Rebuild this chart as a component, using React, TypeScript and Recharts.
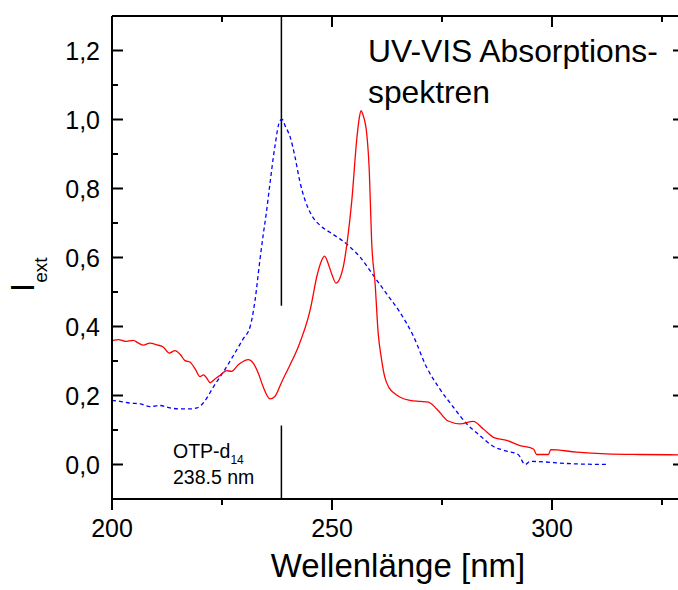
import React from 'react';
import { LineChart, Line, XAxis, YAxis, ReferenceLine } from 'recharts';

// wavelength (nm) / extinction
const redX = [200, 201.5, 203, 204.8, 206, 207.1, 208.6, 210.2, 211.7, 213, 214.3, 215.5, 216.6, 217.7, 218.9, 220, 220.8, 221.5, 222.3, 223.4, 224.5, 226.1, 227.2, 228.7, 230, 231, 232.1, 233.3, 234.4, 235.9, 237, 238.6, 240.5, 242.3, 245, 246.7, 247.6, 248.3, 249.2, 250, 250.9, 251.8, 252.6, 253.5, 254.5, 255.6, 256.2, 256.6, 257, 257.9, 258.5, 259, 259.8, 260.5, 261.2, 262, 263, 264.3, 265.5, 267.7, 270, 271.9, 273.8, 276.4, 279.1, 282.1, 284.4, 287, 289.7, 292.7, 295.8, 296.5, 299.2, 299.7, 305.6, 312.4, 320, 330];
const redY = [0.359, 0.362, 0.357, 0.36, 0.352, 0.346, 0.352, 0.347, 0.34, 0.323, 0.33, 0.319, 0.301, 0.297, 0.277, 0.255, 0.26, 0.251, 0.237, 0.248, 0.258, 0.272, 0.27, 0.289, 0.3, 0.304, 0.294, 0.263, 0.224, 0.19, 0.197, 0.24, 0.29, 0.34, 0.446, 0.553, 0.59, 0.604, 0.58, 0.55, 0.526, 0.54, 0.575, 0.65, 0.765, 0.939, 1.005, 1.026, 1.015, 0.958, 0.843, 0.649, 0.524, 0.38, 0.31, 0.253, 0.222, 0.205, 0.195, 0.186, 0.183, 0.181, 0.161, 0.126, 0.118, 0.125, 0.103, 0.077, 0.07, 0.055, 0.045, 0.029, 0.029, 0.043, 0.036, 0.031, 0.029, 0.028];

const blueX = [200, 201.8, 204.1, 206.4, 208.6, 210.9, 213.2, 215.5, 217.5, 219.3, 221.1, 223, 225.3, 227.6, 229.8, 231.4, 232.5, 233.6, 234.4, 235, 235.9, 237, 238.2, 238.7, 239.3, 240.5, 241.6, 242.7, 243.9, 245.4, 247.3, 249.5, 251.8, 253.7, 256.4, 259.4, 262.4, 265.5, 268.5, 271.5, 274.5, 277.6, 280.6, 283.6, 286.7, 289.7, 292.3, 293.9, 295, 304.8, 312.8];
const blueY = [0.186, 0.183, 0.178, 0.176, 0.168, 0.171, 0.164, 0.161, 0.161, 0.164, 0.184, 0.224, 0.268, 0.316, 0.364, 0.4, 0.475, 0.591, 0.669, 0.722, 0.814, 0.92, 0.997, 1.0, 0.983, 0.949, 0.891, 0.82, 0.765, 0.722, 0.693, 0.673, 0.654, 0.635, 0.601, 0.548, 0.495, 0.44, 0.372, 0.282, 0.219, 0.166, 0.118, 0.084, 0.052, 0.039, 0.029, 0.0, 0.009, 0.002, 0.0];

const xTicks = [200, 225, 250, 275, 300, 325];
const xMajor = [200, 250, 300];
const yTicks = [0, 0.1, 0.2, 0.3, 0.4, 0.5, 0.6, 0.7, 0.8, 0.9, 1.0, 1.1, 1.2];
const yMajor = [0, 0.2, 0.4, 0.6, 0.8, 1.0, 1.2];

const peakX = 238.5;

const redData = redX.map((x, i) => ({ x, y: redY[i] }));
const blueData = blueX.map((x, i) => ({ x, y: blueY[i] }));

const FONT = '"Liberation Sans", Arial, sans-serif';
const isMajor = (list: number[], v: number) => list.some((m) => Math.abs(m - v) < 1e-6);
const fmtY = (v: number) => v.toFixed(1).replace('.', ',');

const LeftTick = (props: any) => {
  const { x, y, payload } = props;
  const major = isMajor(yMajor, payload.value);
  return (
    <g>
      <line x1={x} x2={x + (major ? 11 : 6)} y1={y} y2={y} stroke="#000" strokeWidth={2} />
      {major && (
        <text x={x - 12} y={y + 9} textAnchor="end" fontSize={25} fontFamily={FONT} fill="#000">
          {fmtY(payload.value)}
        </text>
      )}
    </g>
  );
};

const RightTick = (props: any) => {
  const { x, y, payload } = props;
  const major = isMajor(yMajor, payload.value);
  return <line x1={x} x2={x - (major ? 11 : 6)} y1={y} y2={y} stroke="#000" strokeWidth={2} />;
};

const BottomTick = (props: any) => {
  const { x, y, payload } = props;
  const major = isMajor(xMajor, payload.value);
  return (
    <g>
      <line x1={x} x2={x} y1={y} y2={y + (major ? 11 : 6)} stroke="#000" strokeWidth={2} />
      {major && (
        <text x={x} y={y + 38} textAnchor="middle" fontSize={25} fontFamily={FONT} fill="#000">
          {payload.value}
        </text>
      )}
    </g>
  );
};

const TopTick = (props: any) => {
  const { x, y, payload } = props;
  const major = isMajor(xMajor, payload.value);
  return <line x1={x} x2={x} y1={y} y2={y + (major ? 11 : 6)} stroke="#000" strokeWidth={2} />;
};

const App = () => {
  return (
    <div style={{ position: 'absolute', left: 0, top: 0, width: 678, height: 590, overflow: 'hidden', background: '#fff' }}>
      <LineChart width={700} height={590} margin={{ top: 6, right: 6, left: 52, bottom: 51 }}>
        <XAxis
          xAxisId={0}
          type="number"
          dataKey="x"
          domain={[200, 330]}
          ticks={xTicks}
          interval={0}
          height={40}
          tickSize={0}
          tickMargin={0}
          tickLine={false}
          axisLine={{ stroke: '#000', strokeWidth: 2 }}
          tick={<BottomTick />}
          allowDataOverflow
        />
        <XAxis
          xAxisId="top"
          orientation="top"
          type="number"
          dataKey="x"
          domain={[200, 330]}
          ticks={xTicks}
          interval={0}
          height={10}
          tickSize={0}
          tickMargin={0}
          tickLine={false}
          axisLine={{ stroke: '#000', strokeWidth: 2 }}
          tick={<TopTick />}
          allowDataOverflow
        />
        <YAxis
          yAxisId={0}
          type="number"
          domain={[-0.1, 1.3]}
          ticks={yTicks}
          interval={0}
          width={60}
          tickSize={0}
          tickMargin={0}
          tickLine={false}
          axisLine={{ stroke: '#000', strokeWidth: 2 }}
          tick={<LeftTick />}
          allowDataOverflow
        />
        <YAxis
          yAxisId="right"
          orientation="right"
          type="number"
          domain={[-0.1, 1.3]}
          ticks={yTicks}
          interval={0}
          width={10}
          tickSize={0}
          tickMargin={0}
          tickLine={false}
          axisLine={{ stroke: '#000', strokeWidth: 2 }}
          tick={<RightTick />}
          allowDataOverflow
        />
        <ReferenceLine
          segment={[{ x: peakX, y: 0.46 }, { x: peakX, y: 1.3 }]}
          stroke="#000"
          strokeWidth={1.5}
          ifOverflow="visible"
        />
        <ReferenceLine
          segment={[{ x: peakX, y: -0.1 }, { x: peakX, y: 0.113 }]}
          stroke="#000"
          strokeWidth={1.5}
          ifOverflow="visible"
        />
        <Line
          data={blueData}
          dataKey="y"
          type="monotone"
          stroke="#0000ff"
          strokeWidth={1.3}
          strokeDasharray="4 3"
          dot={false}
          isAnimationActive={false}
        />
        <Line
          data={redData}
          dataKey="y"
          type="monotone"
          stroke="#ff0000"
          strokeWidth={1.3}
          dot={false}
          isAnimationActive={false}
        />
      </LineChart>
      <svg
        width={678}
        height={590}
        style={{ position: 'absolute', left: 0, top: 0, pointerEvents: 'none' }}
        fontFamily={FONT}
      >
        <text x={368} y={62} fontSize={31.8} fill="#000">UV-VIS Absorptions-</text>
        <text x={368} y={103} fontSize={31.8} fill="#000">spektren</text>
        <text transform="translate(34, 292) rotate(-90)" fontSize={33} fill="#000">
          I<tspan fontSize={19} dy={13}>ext</tspan>
        </text>
        <text x={398} y={577} textAnchor="middle" fontSize={33} fill="#000">Wellenlänge [nm]</text>
        <text x={173} y={458} fontSize={19.5} fill="#000">
          OTP-d<tspan fontSize={12} dy={6}>14</tspan>
        </text>
        <text x={173} y={484} fontSize={19.5} fill="#000">238.5 nm</text>
      </svg>
    </div>
  );
};

export default App;
